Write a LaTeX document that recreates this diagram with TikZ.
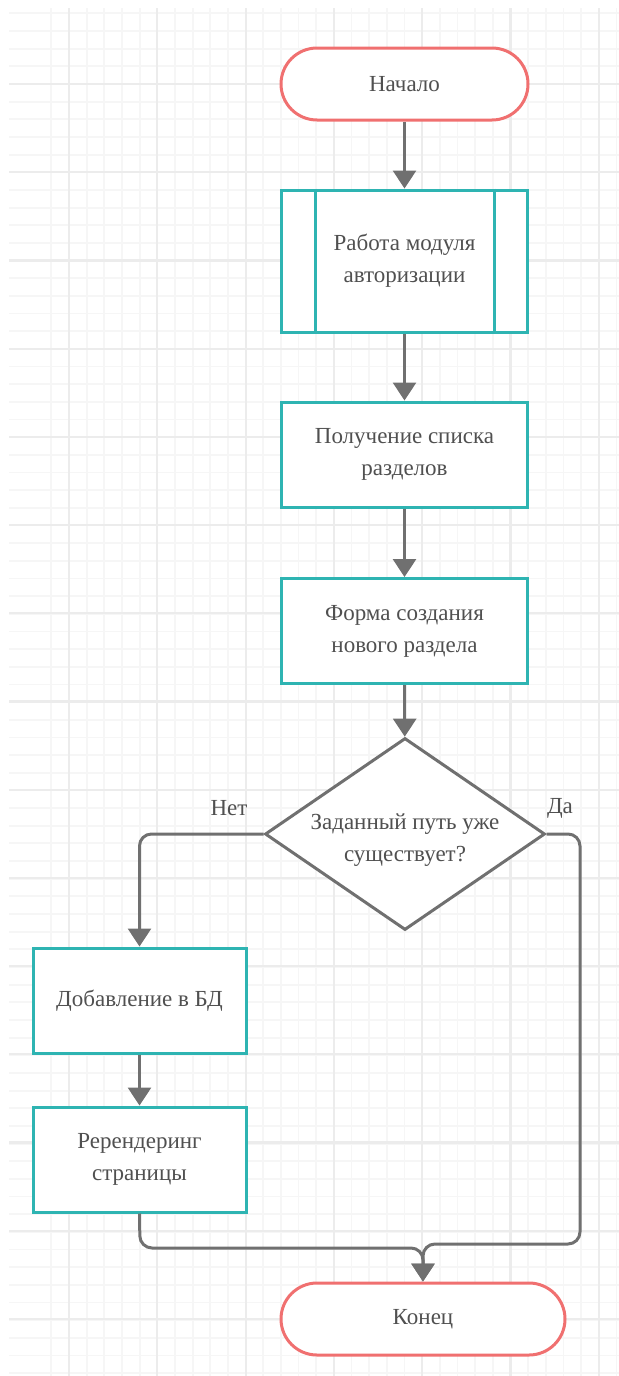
\documentclass[tikz,border=0pt]{standalone}
\usepackage{fontspec}
\setmainfont{Liberation Serif}
\newfontfamily\diagfont{Liberation Serif}
\usetikzlibrary{shapes.geometric,arrows.meta}
\definecolor{tealc}{RGB}{46,180,178}
\definecolor{redc}{RGB}{240,112,112}
\definecolor{arrc}{RGB}{112,112,112}
\definecolor{txtc}{RGB}{80,80,80}
\definecolor{gridminor}{RGB}{246,246,246}
\definecolor{gridmajor}{RGB}{236,236,236}
\tikzset{
  every node/.style={font=\diagfont\fontsize{11.5pt}{16pt}\selectfont, text=txtc},
  term/.style={draw=redc, line width=1.5pt, fill=white, rectangle, rounded corners=18pt, minimum height=36pt, align=center},
  procbox/.style={draw=tealc, line width=1.5pt, fill=white, rectangle, minimum width=123pt, minimum height=52.5pt, align=center, inner sep=0pt},
  decis/.style={draw=arrc, line width=1.5pt, fill=white, diamond, minimum width=140pt, minimum height=96pt, inner sep=0pt},
  conn/.style={draw=arrc, line width=1.5pt, -{Triangle[width=11.5pt,length=9pt]}, rounded corners=6pt},
  lbl/.style={inner sep=0pt}
}
\begin{document}
\begin{tikzpicture}[x=0.5pt,y=-0.5pt]
\useasboundingbox (0,0) rectangle (619,1376);
% grid
\begin{scope}
\clip (9,8) rectangle (619,1376);
\foreach \i in {-1,...,35} {
  \draw[gridminor, line width=0.9pt] ({69+17.66*\i},0) -- ({69+17.66*\i},1376);
}
\foreach \i in {-4,...,73} {
  \draw[gridminor, line width=0.9pt] (0,{84+17.66*\i}) -- (619,{84+17.66*\i});
}
\foreach \i in {0,...,7} {
  \draw[gridmajor, line width=1.1pt] ({69+88.3*\i},0) -- ({69+88.3*\i},1376);
}
\foreach \i in {-1,...,15} {
  \draw[gridmajor, line width=1.1pt] (0,{84+88.2*\i}) -- (619,{84+88.2*\i});
}
\end{scope}

% nodes
\node[term, minimum width=123.5pt] (start) at (404.5,84) {Начало};
\node[procbox, minimum height=71pt] (sub) at (404.5,261) {Работа модуля\\авторизации};
\draw[tealc, line width=1.5pt] ([xshift=17.5pt]sub.north west) -- ([xshift=17.5pt]sub.south west);
\draw[tealc, line width=1.5pt] ([xshift=-17.5pt]sub.north east) -- ([xshift=-17.5pt]sub.south east);
\node[procbox] (get) at (404.5,454.5) {Получение списка\\разделов};
\node[procbox] (form) at (404.5,631) {Форма создания\\нового раздела};
\node[decis] (dec) at (405,834) {};
\node[lbl, align=center] (dectext) at (405,840) {Заданный путь уже\\существует?};
\node[procbox, minimum width=106.5pt] (add) at (139.5,1000.5) {Добавление в БД};
\node[procbox, minimum width=106.5pt] (rer) at (139.5,1159.5) {Ререндеринг\\страницы};
\node[term, minimum width=142pt] (end) at (423,1319) {Конец};

% labels
\node[lbl] (no) at (229,808) {Нет};
\node[lbl] (yes) at (560,808) {Да};

% connectors
\coordinate (mergeL) at (140,1248);
\coordinate (mergeR) at (580,1244);
\draw[conn] (start) -- (sub);
\draw[conn] (sub) -- (get);
\draw[conn] (get) -- (form);
\draw[conn] (form) -- (dec);
\draw[conn] (dec.west) -| (add.north);
\draw[conn] (add) -- (rer);
\draw[conn] (rer.south) -- (mergeL) -| (end.north);
\draw[conn] (dec.east) -| (mergeR) -| (end.north);
\end{tikzpicture}
\end{document}
